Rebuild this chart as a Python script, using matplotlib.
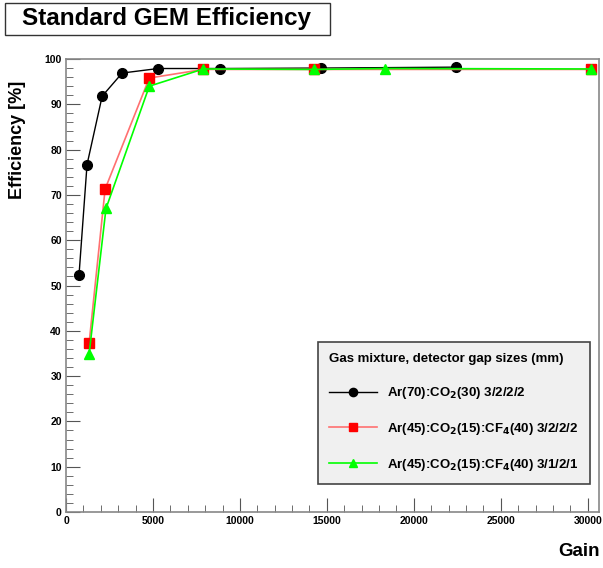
import matplotlib
matplotlib.use("Agg")
import matplotlib.pyplot as plt
from matplotlib.ticker import MultipleLocator
from matplotlib.patches import Rectangle

plt.rcParams['font.family'] = ['Liberation Sans', 'DejaVu Sans']
plt.rcParams['font.weight'] = 'bold'

# data
gain_ar_co2 = [750, 1210, 2080, 3230, 5300, 8880, 14650, 22430]
eff_ar_co2 = [52.4, 76.7, 91.8, 96.9, 97.9, 97.9, 98.0, 98.2]

gain_cf4_2222 = [1330, 2250, 4790, 7900, 14240, 30200]
eff_cf4_2222 = [37.3, 71.3, 95.8, 97.7, 97.7, 97.7]

gain_cf4_3121 = [1330, 2300, 4790, 7900, 14240, 18340, 30200]
eff_cf4_3121 = [34.9, 67.0, 94.0, 97.8, 97.7, 97.9, 97.8]

labels = ["Ar(70):CO$_2$(30) 3/2/2/2",
          "Ar(45):CO$_2$(15):CF$_4$(40) 3/2/2/2",
          "Ar(45):CO$_2$(15):CF$_4$(40) 3/1/2/1"]

fig = plt.figure(figsize=(6.03, 5.68), dpi=100)
ax = fig.add_axes([66 / 603, 56 / 568, 533 / 603, 453 / 568])

ax.plot(gain_ar_co2, eff_ar_co2, color='black', lw=1, marker='o', ms=7,
        mfc='black', mec='black', label=labels[0])
ax.plot(gain_cf4_2222, eff_cf4_2222, color='#ff7070', lw=1.2, marker='s', ms=7,
        mfc='red', mec='red', label=labels[1])
ax.plot(gain_cf4_3121, eff_cf4_3121, color='#00ff00', lw=1.2, marker='^', ms=7,
        mfc='#00ff00', mec='#00ff00', label=labels[2])

ax.set_xlim(0, 30650)
ax.set_ylim(0, 100)
ax.xaxis.set_major_locator(MultipleLocator(5000))
ax.xaxis.set_minor_locator(MultipleLocator(1000))
ax.yaxis.set_major_locator(MultipleLocator(10))
ax.yaxis.set_minor_locator(MultipleLocator(2))
ax.tick_params(which='both', direction='in', top=False, right=False,
               labelsize=7.5, pad=3, color='#555555')
ax.tick_params(which='major', length=10)
ax.tick_params(which='minor', length=5)
for t in ax.get_xticklabels() + ax.get_yticklabels():
    t.set_fontweight('bold')
for s in ax.spines.values():
    s.set_color('#888888')
    s.set_linewidth(1.2)

fig.text(18 / 603, 1 - 140 / 568, "Efficiency [%]", rotation=90, fontsize=13,
         fontweight='bold', ha='center', va='center')
fig.text(600 / 603, 1 - 551 / 568, "Gain", fontsize=13.5, fontweight='bold',
         ha='right', va='center')

# title box
fig.patches.append(Rectangle((5 / 603, 1 - 35 / 568), 325 / 603, 32 / 568,
                             transform=fig.transFigure, fill=True, fc='white',
                             ec='#333333', lw=1))
fig.text(22 / 603, 1 - 19 / 568, "Standard GEM Efficiency", fontsize=17.5,
         fontweight='bold', ha='left', va='center')

leg = ax.legend(loc='lower right', bbox_to_anchor=(590 / 603, 1 - 484 / 568),
                bbox_transform=fig.transFigure, fontsize=9.5, frameon=True,
                fancybox=False, edgecolor='#444444', facecolor='#f0f0f0',
                framealpha=1, title="Gas mixture, detector gap sizes (mm)",
                title_fontproperties={'weight': 'bold', 'size': 9.5},
                handlelength=3.6, labelspacing=1.5, borderpad=0.85,
                borderaxespad=0, alignment='left', markerscale=0.85)
leg.get_frame().set_linewidth(1.2)
for t in leg.get_texts():
    t.set_fontweight('bold')

fig.savefig("out.png", dpi=100)
